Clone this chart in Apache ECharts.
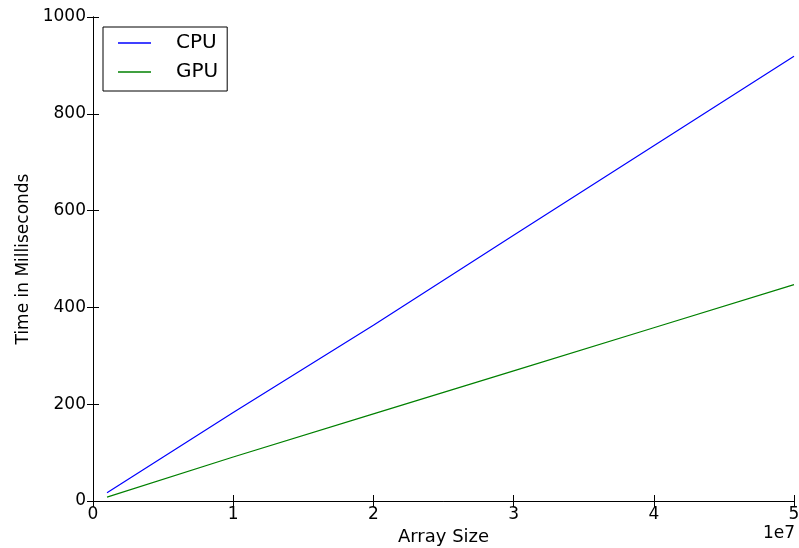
<!DOCTYPE html>
<html>
<head>
<meta charset="utf-8">
<script src="https://cdn.jsdelivr.net/npm/echarts@6/dist/echarts.min.js"></script>
<style>
	html, body { margin: 0; padding: 0; background: #fff; }
	#chart { width: 799px; height: 548px; }
</style>
</head>
<body>
<div id="chart"></div>
<script>
// array sizes and timings
var arraySizes = [1e6, 1e7, 2e7, 3e7, 4e7, 5e7];
var cpuTimes = [17, 183, 363, 549, 734, 919];
var gpuTimes = [8, 91, 180, 269, 358, 447];
var xTicks = [0, 1, 2, 3, 4, 5];
var yTicks = [0, 200, 400, 600, 800, 1000];

function pairs(xs, ys) {
	var out = [];
	for (var i = 0; i < xs.length; i++) {
		out.push([xs[i], ys[i]]);
	}
	return out;
}

var font = 'DejaVu Sans';
var frame = {
	show: true,
	lineStyle: { color: '#000', width: 1 }
};
var inTick = {
	show: true,
	inside: true,
	length: 6,
	lineStyle: { color: '#000', width: 1 }
};

var chart = echarts.init(document.getElementById('chart'));

var option = {
	animation: false,
	backgroundColor: '#fff',
	grid: { left: 93, right: 5, top: 17, bottom: 47, containLabel: false, outerBoundsMode: 'none' },
	legend: {
		left: 103,
		top: 27,
		orient: 'vertical',
		icon: 'rect',
		itemWidth: 33,
		itemHeight: 1.5,
		itemGap: 9,
		padding: [6, 9, 9, 15],
		backgroundColor: '#fff',
		borderColor: '#000',
		borderWidth: 1,
		borderRadius: 0,
		textStyle: {
			fontFamily: font,
			fontSize: 20,
			color: '#000',
			lineHeight: 20,
			padding: [0, 0, 0, 20]
		},
		data: ['CPU', 'GPU']
	},
	xAxis: [
		{
			type: 'value',
			min: 0,
			max: 5e7,
			interval: 1e7,
			name: 'Array Size',
			nameLocation: 'middle',
			nameGap: 27,
			nameTextStyle: { fontFamily: font, fontSize: 18, color: '#000' },
			axisLine: frame,
			axisTick: inTick,
			splitLine: { show: false },
			axisLabel: {
				fontFamily: font,
				fontSize: 17,
				color: '#000',
				margin: 5,
				formatter: function (v) { return String(xTicks[Math.round(v / 1e7)]); }
			}
		},
		{
			type: 'value',
			position: 'top',
			min: 0,
			max: 5e7,
			interval: 1e7,
			axisLine: frame,
			axisTick: inTick,
			axisLabel: { show: false },
			splitLine: { show: false }
		}
	],
	yAxis: [
		{
			type: 'value',
			min: yTicks[0],
			max: yTicks[yTicks.length - 1],
			interval: 200,
			name: 'Time in Milliseconds',
			nameLocation: 'middle',
			nameGap: 60,
			nameTextStyle: { fontFamily: font, fontSize: 17, color: '#000' },
			axisLine: frame,
			axisTick: inTick,
			splitLine: { show: false },
			axisLabel: {
				fontFamily: font,
				fontSize: 17,
				color: '#000',
				margin: 7,
				formatter: function (v) { return String(v); }
			}
		},
		{
			type: 'value',
			position: 'right',
			min: yTicks[0],
			max: yTicks[yTicks.length - 1],
			interval: 200,
			axisLine: frame,
			axisTick: inTick,
			axisLabel: { show: false },
			splitLine: { show: false }
		}
	],
	graphic: [
		{
			type: 'text',
			left: 763,
			top: 525,
			style: { text: '1e7', fontFamily: font, fontSize: 17, fill: '#000' }
		}
	],
	series: [
		{
			name: 'CPU',
			type: 'line',
			showSymbol: false,
			color: '#0000ff',
			lineStyle: { width: 1.2 },
			data: pairs(arraySizes, cpuTimes)
		},
		{
			name: 'GPU',
			type: 'line',
			showSymbol: false,
			color: '#008000',
			lineStyle: { width: 1.2 },
			data: pairs(arraySizes, gpuTimes)
		}
	]
};

chart.setOption(option);
</script>
</body>
</html>
